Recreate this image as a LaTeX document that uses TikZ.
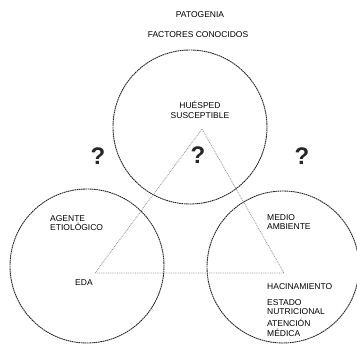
\documentclass[tikz,border=0pt]{standalone}
\usepackage{fontspec}
\setmainfont{Liberation Sans}
\begin{document}
\begin{tikzpicture}[
  x=1pt, y=-1pt,
  ring/.style={circle, draw=black!85, line width=0.9pt, dash pattern=on 1.6pt off 0.6pt, inner sep=0pt},
  edge/.style={draw=black!45, line width=0.8pt, densely dotted},
  label/.style={font=\fontsize{8.5}{9.5}\selectfont, inner sep=0pt, align=left, anchor=west},
  query/.style={font=\fontsize{24}{24}\selectfont, inner sep=0pt, text=black!85}
]
\useasboundingbox (0,0) rectangle (357,344);

% Titles
\node[label, anchor=center, align=center] (title) at (200,15) {PATOGENIA};
\node[label, anchor=center, align=center] (known) at (198,35) {FACTORES CONOCIDOS};

% Circles
\node[ring, minimum size=154pt] (host) at (190,127) {};
\node[ring, minimum size=154pt] (agent) at (87,266) {};
\node[ring, minimum size=152pt] (env) at (283,267) {};

% Triangle
\coordinate (apex) at (202,129);
\coordinate (eda) at (95,273);
\coordinate (hac) at (284,273);
\draw[edge] (eda) -- (apex) -- (hac) -- (eda);

% Labels
\node[label, anchor=center, align=center] (hostlbl) at (200,110) {HUÉSPED\\SUSCEPTIBLE};
\node[label] (agentlbl) at (50,223) {AGENTE\\ETIOLÓGICO};
\node[label] (edalbl) at (75,283) {EDA};
\node[label] (envlbl) at (267,222) {MEDIO\\AMBIENTE};
\node[label] (hacin) at (267,287) {HACINAMIENTO};
\node[label] (nutri) at (267,307) {ESTADO\\NUTRICIONAL};
\node[label] (aten) at (267,328) {ATENCIÓN\\MÉDICA};

% Question marks
\node[query] (q1) at (98,156) {\bfseries ?};
\node[query] (q2) at (198,155) {\bfseries ?};
\node[query] (q3) at (302,156) {\bfseries ?};

\end{tikzpicture}
\end{document}
